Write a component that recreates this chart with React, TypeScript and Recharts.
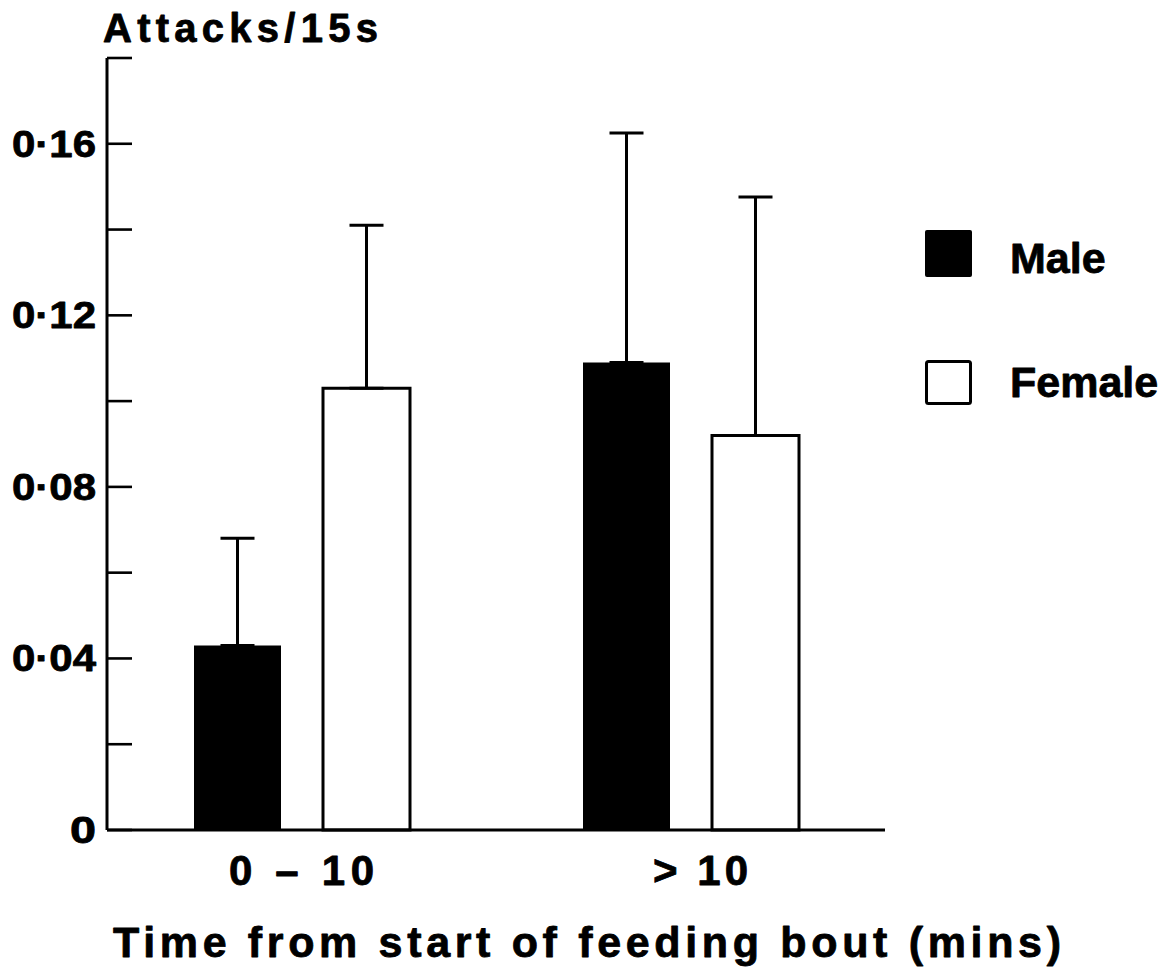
import React from 'react';
import { BarChart, Bar, XAxis, YAxis, ErrorBar, Legend } from 'recharts';

// Attack rate by sex, split by time since the start of the feeding bout
const categories = ['0 – 10', '> 10'];
const maleRate = [0.043, 0.109];
const femaleRate = [0.103, 0.092];
const maleSE = [0.025, 0.0535];
const femaleSE = [0.038, 0.0556];
const seriesNames = ['Male', 'Female'];
const yTicks = [0, 0.02, 0.04, 0.06, 0.08, 0.1, 0.12, 0.14, 0.16, 0.18];
const labelledTicks = [0, 0.04, 0.08, 0.12, 0.16];
const yTitle = 'Attacks/15s';
const xTitle = 'Time from start of feeding bout (mins)';

const data = categories.map((period, i) => ({
  period,
  male: maleRate[i],
  female: femaleRate[i],
  // only the upper half of each error bar is drawn above the bar
  maleErr: [0, maleSE[i]],
  femaleErr: [0, femaleSE[i]],
}));

const FONT = '"Liberation Sans", Arial, Helvetica, sans-serif';
const INK = '#000';
// slight outline gives the lettering a heavier, print-like weight
const heavy = { stroke: INK, strokeWidth: 0.8, strokeLinejoin: 'round' as const };

const fmtTick = (v: number) => (v === 0 ? '0' : v.toFixed(2).replace('.', '\u00b7'));

const YTick = (props: any) => {
  const { x, y, payload } = props;
  const v = payload.value as number;
  const show = labelledTicks.some((t) => Math.abs(t - v) < 1e-9);
  const label = fmtTick(v);
  return (
    <g>
      <line x1={x} x2={x + 25} y1={y} y2={y} stroke={INK} strokeWidth={2.6} />
      {show && (
        <text
          x={x - 11}
          y={y + 13}
          textAnchor="end"
          fontFamily={FONT}
          fontWeight="bold"
          fontSize={37}
          fill={INK}
          {...heavy}
          textLength={label.length === 1 ? 26 : 84}
          lengthAdjust="spacingAndGlyphs"
        >
          {label}
        </text>
      )}
    </g>
  );
};

// typeset width and horizontal nudge of each category label
const xLabelWidth: Record<string, number> = { '0 – 10': 145, '> 10': 95 };
const xLabelShift: Record<string, number> = { '0 – 10': 0, '> 10': 10 };

const XTick = (props: any) => {
  const { x, y, payload } = props;
  const label = String(payload.value);
  return (
    <text
      x={x + (xLabelShift[label] || 0)}
      y={y + 55}
      textAnchor="middle"
      fontFamily={FONT}
      fontWeight="bold"
      fontSize={42}
      fill={INK}
      {...heavy}
      textLength={xLabelWidth[label]}
      lengthAdjust="spacing"
    >
      {label}
    </text>
  );
};

const YTitle = (props: any) => {
  const vb = props.viewBox;
  return (
    <text
      x={vb.x + vb.width - 4}
      y={vb.y - 16}
      fontFamily={FONT}
      fontWeight="bold"
      fontSize={40}
      fill={INK}
      {...heavy}
      textLength={275}
      lengthAdjust="spacing"
    >
      {yTitle}
    </text>
  );
};

const XTitle = (props: any) => {
  const vb = props.viewBox;
  return (
    <text
      x={vb.x + 6}
      y={vb.y + 127}
      fontFamily={FONT}
      fontWeight="bold"
      fontSize={43}
      fill={INK}
      {...heavy}
      textLength={948}
      lengthAdjust="spacing"
    >
      {xTitle}
    </text>
  );
};

const LegendBox = () => (
  <svg width={250} height={190} style={{ display: 'block', overflow: 'visible' }}>
    <rect x={3} y={2} width={47} height={47} rx={2} fill={INK} />
    <text x={88} y={45} fontFamily={FONT} fontWeight="bold" fontSize={43} fill={INK} {...heavy}>
      {seriesNames[0]}
    </text>
    <rect x={4.5} y={133.5} width={44} height={42} rx={2} fill="#fff" stroke={INK} strokeWidth={3} />
    <text x={88} y={169} fontFamily={FONT} fontWeight="bold" fontSize={43} fill={INK} {...heavy}>
      {seriesNames[1]}
    </text>
  </svg>
);

export default function App() {
  return (
    <div style={{ position: 'absolute', left: 0, top: 0, width: 1173, height: 970, background: '#fff' }}>
      <BarChart
        width={1173}
        height={970}
        data={data}
        margin={{ top: 58, right: 288, bottom: 80, left: 7 }}
        barSize={87}
        barGap={42}
      >
        <XAxis
          dataKey="period"
          height={60}
          axisLine={{ stroke: INK, strokeWidth: 3 }}
          tickLine={false}
          tickSize={0}
          tickMargin={0}
          tick={<XTick />}
          interval={0}
          label={<XTitle />}
        />
        <YAxis
          width={100}
          domain={[0, 0.18]}
          ticks={yTicks}
          interval={0}
          axisLine={{ stroke: INK, strokeWidth: 3 }}
          tickLine={false}
          tickSize={0}
          tickMargin={0}
          tick={<YTick />}
          label={<YTitle />}
        />
        <Legend
          layout="vertical"
          align="center"
          verticalAlign="middle"
          content={<LegendBox />}
          wrapperStyle={{ left: 922, top: 228, width: 250, height: 190 }}
        />
        <Bar dataKey="male" name={seriesNames[0]} fill={INK} isAnimationActive={false}>
          <ErrorBar dataKey="maleErr" width={17} stroke={INK} strokeWidth={3} isAnimationActive={false} />
        </Bar>
        <Bar
          dataKey="female"
          name={seriesNames[1]}
          fill="#fff"
          stroke={INK}
          strokeWidth={3}
          isAnimationActive={false}
        >
          <ErrorBar dataKey="femaleErr" width={17} stroke={INK} strokeWidth={3} isAnimationActive={false} />
        </Bar>
      </BarChart>
    </div>
  );
}
